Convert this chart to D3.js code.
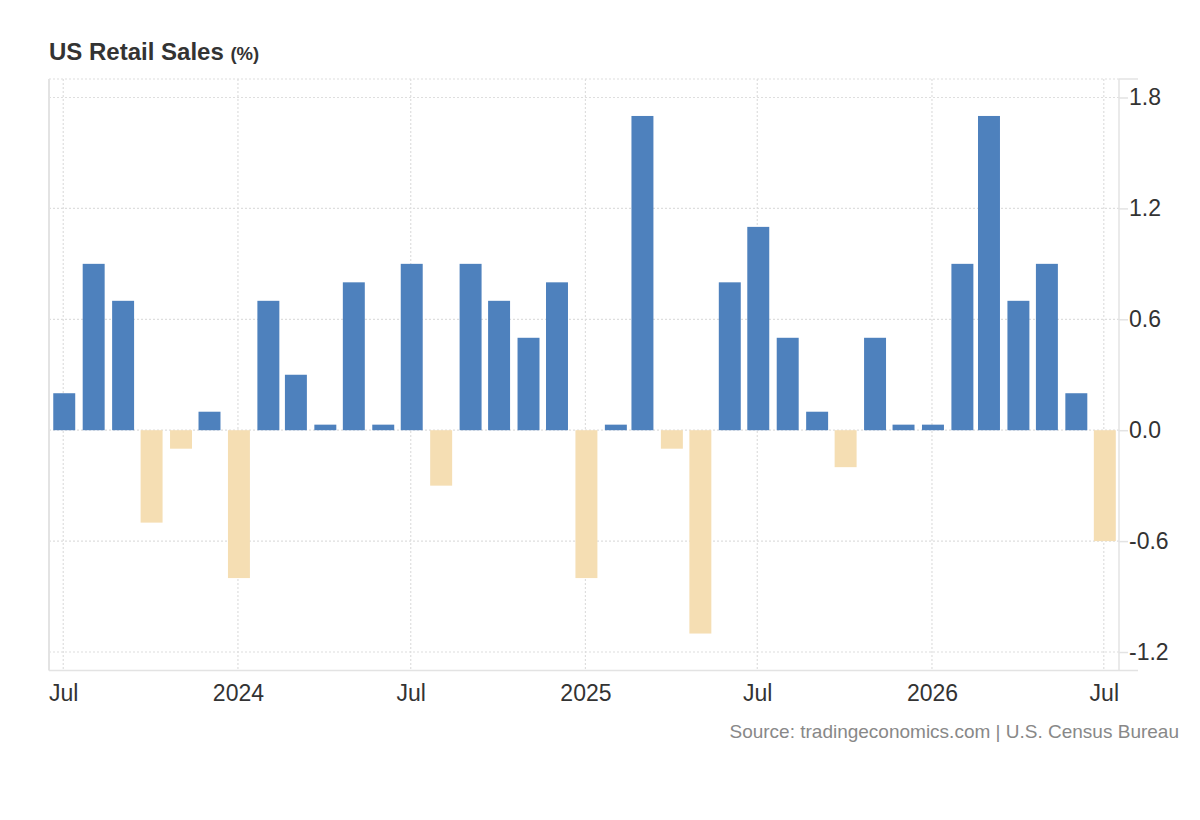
<!DOCTYPE html>
<html>
<head>
<meta charset="utf-8">
<script src="https://cdn.jsdelivr.net/npm/d3@7"></script>
<style>
  body { margin: 0; background: #fff; }
  svg { display: block; font-family: "Liberation Sans", Arial, Helvetica, sans-serif; }
</style>
</head>
<body>
<div id="chart"></div>
<script>
// monthly change, %
const months = [
  "2023-07", "2023-08", "2023-09", "2023-10", "2023-11", "2023-12",
  "2024-01", "2024-02", "2024-03", "2024-04", "2024-05", "2024-06",
  "2024-07", "2024-08", "2024-09", "2024-10", "2024-11", "2024-12",
  "2025-01", "2025-02", "2025-03", "2025-04", "2025-05", "2025-06",
  "2025-07", "2025-08", "2025-09", "2025-10", "2025-11", "2025-12",
  "2026-01", "2026-02", "2026-03", "2026-04", "2026-05", "2026-06",
  "2026-07"
];
const values = [
  0.2, 0.9, 0.7, -0.5, -0.1, 0.1,
  -0.8, 0.7, 0.3, 0.03, 0.8, 0.03,
  0.9, -0.3, 0.9, 0.7, 0.5, 0.8,
  -0.8, 0.03, 1.7, -0.1, -1.1, 0.8,
  1.1, 0.5, 0.1, -0.2, 0.5, 0.03,
  0.03, 0.9, 1.7, 0.7, 0.9, 0.2,
  -0.6
];
const xTickDates = ["2023-07", "2024-01", "2024-07", "2025-01", "2025-07", "2026-01", "2026-07"];
const xTickLabels = ["Jul", "2024", "Jul", "2025", "Jul", "2026", "Jul"];
const yTicks = [1.8, 1.2, 0.6, 0, -0.6, -1.2];

const W = 1200, H = 820;
const plot = { left: 49, right: 1119, top: 79, bottom: 670.5 };

const parseMonth = d3.timeParse("%Y-%m");
const data = months.map((m, i) => ({ date: parseMonth(m), value: values[i] }));

const svg = d3.select("#chart").append("svg")
  .attr("width", W)
  .attr("height", H);

const x = d3.scaleTime()
  .domain([new Date(2023, 5, 16), new Date(2026, 6, 17)])
  .range([plot.left, plot.right]);

const y = d3.scaleLinear()
  .domain([-1.3, 1.9])
  .range([plot.bottom, plot.top]);

const gridColor = "#dedede";
const lineColor = "#e3e3e3";

// dotted grid
const grid = svg.append("g").attr("class", "grid");
grid.selectAll("line.h")
  .data(yTicks.concat([1.9]))
  .enter().append("line")
  .attr("class", "h")
  .attr("x1", plot.left)
  .attr("x2", plot.right)
  .attr("y1", d => y(d))
  .attr("y2", d => y(d))
  .attr("stroke", gridColor)
  .attr("stroke-width", 1.2)
  .attr("stroke-dasharray", "2,2");

grid.selectAll("line.v")
  .data(xTickDates.map(parseMonth))
  .enter().append("line")
  .attr("class", "v")
  .attr("x1", d => x(d))
  .attr("x2", d => x(d))
  .attr("y1", plot.top)
  .attr("y2", plot.bottom)
  .attr("stroke", gridColor)
  .attr("stroke-width", 1.2)
  .attr("stroke-dasharray", "2,2");

// bars
const step = (x(data[data.length - 1].date) - x(data[0].date)) / (data.length - 1);
const bw = step * 0.76;

svg.append("g").attr("class", "bars")
  .selectAll("rect")
  .data(data)
  .enter().append("rect")
  .attr("x", d => x(d.date) - bw / 2 + 1)
  .attr("width", bw)
  .attr("y", d => y(Math.max(0, d.value)))
  .attr("height", d => Math.abs(y(d.value) - y(0)))
  .attr("fill", d => d.value >= 0 ? "#4e81bd" : "#f5deb3");

// frame lines
svg.append("line")
  .attr("x1", plot.left).attr("x2", plot.left)
  .attr("y1", plot.top).attr("y2", plot.bottom)
  .attr("stroke", lineColor).attr("stroke-width", 2);

svg.append("line")
  .attr("x1", plot.right).attr("x2", plot.right + 19)
  .attr("y1", plot.top).attr("y2", plot.top)
  .attr("stroke", lineColor).attr("stroke-width", 1.5);

// y axis on the right
const yAxis = svg.append("g")
  .attr("transform", `translate(${plot.right},0)`)
  .call(d3.axisRight(y)
    .tickValues(yTicks)
    .tickSize(9)
    .tickPadding(1)
    .tickFormat(d => d.toFixed(1)));
yAxis.select(".domain")
  .attr("d", `M0,${plot.top}V${plot.bottom}`)
  .attr("stroke", lineColor)
  .attr("stroke-width", 1.5);
yAxis.selectAll(".tick line").attr("stroke", lineColor).attr("stroke-width", 1.5);
yAxis.selectAll(".tick text")
  .attr("fill", "#333")
  .style("font-size", "23px");

// x axis at the bottom
const xAxis = svg.append("g")
  .attr("transform", `translate(0,${plot.bottom})`)
  .call(d3.axisBottom(x)
    .tickValues(xTickDates.map(parseMonth))
    .tickSize(0)
    .tickPadding(14)
    .tickFormat((d, i) => xTickLabels[i]));
xAxis.select(".domain")
  .attr("d", `M${plot.left},0H${plot.right + 19}`)
  .attr("stroke", lineColor)
  .attr("stroke-width", 1.5);
xAxis.selectAll(".tick text")
  .attr("fill", "#333")
  .style("font-size", "23px");

// title
const title = svg.append("text")
  .attr("x", plot.left)
  .attr("y", 60)
  .attr("fill", "#333")
  .style("font-weight", "bold")
  .style("font-size", "24px")
  .text("US Retail Sales ");
title.append("tspan")
  .style("font-size", "18.5px")
  .text("(%)");

// source
svg.append("text")
  .attr("x", 1179)
  .attr("y", 738)
  .attr("text-anchor", "end")
  .attr("fill", "#888")
  .style("font-size", "19px")
  .text("Source: tradingeconomics.com | U.S. Census Bureau");
</script>
</body>
</html>
